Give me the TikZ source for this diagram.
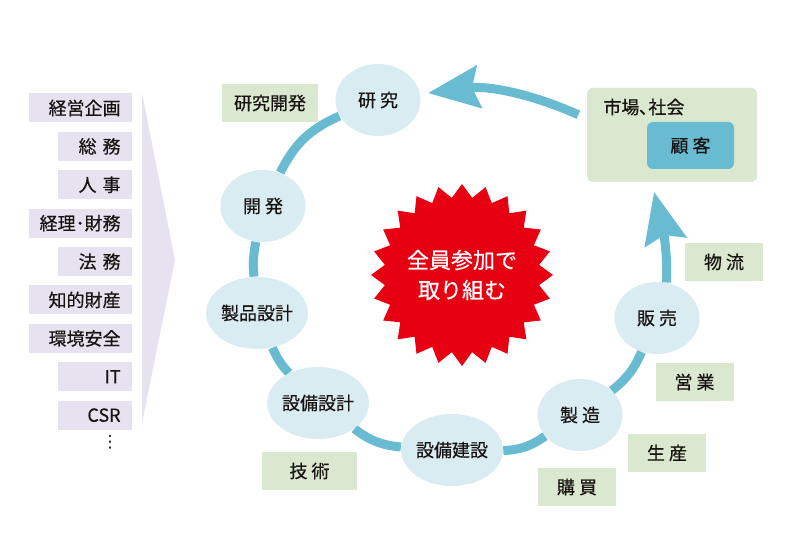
\documentclass[tikz,border=0pt]{standalone}
\usepackage{fontspec}
\setmainfont{Noto Sans CJK JP}[FakeBold=0.5]
\newfontfamily\symfont{DejaVu Sans}
\usetikzlibrary{positioning,shapes.geometric,arrows.meta,backgrounds}
\definecolor{ringblue}{RGB}{104,187,209}
\definecolor{paleblue}{RGB}{217,236,242}
\definecolor{palegreen}{RGB}{218,232,207}
\definecolor{lavender}{RGB}{231,226,240}
\definecolor{starred}{RGB}{230,0,18}
\definecolor{inkgray}{RGB}{25,20,18}

\begin{document}
\begin{tikzpicture}[x=1pt, y=1pt, node distance=8.6pt, thick, text=inkgray,
		step node/.style={ellipse,fill=paleblue,minimum width=85pt,minimum height=72pt,inner sep=0pt,font=\fontsize{18}{20}\selectfont},
		tag node/.style={fill=palegreen,minimum width=78pt,minimum height=38pt,font=\fontsize{18}{20}\selectfont},
		dept node/.style={fill=lavender,anchor=east,minimum height=29pt,inner xsep=11pt,inner ysep=0pt,text width=52pt,align=right,font=\fontsize{18}{20}\selectfont},
		wide/.style={text width=81pt},
		ring/.style={draw=ringblue,line width=9pt},
		flow/.style={ring,-{Stealth[length=52pt,width=44pt,inset=8pt,line width=0pt]}}]
	
	\useasboundingbox (0,0) rectangle (787,534);
	
	% staff departments
	\fill[lavender] (142,441) -- (175,274) -- (142,111) -- cycle;
	\node[dept node, wide] (b1) at (132,426) {経営企画};
	\node[dept node] (b2) [below=of b1.south east, anchor=north east] {総 務};
	\node[dept node] (b3) [below=of b2.south east, anchor=north east] {人 事};
	\node[dept node, wide] (b4) [below=of b3.south east, anchor=north east] {経理･財務};
	\node[dept node] (b5) [below=of b4.south east, anchor=north east] {法 務};
	\node[dept node, wide] (b6) [below=of b5.south east, anchor=north east] {知的財産};
	\node[dept node, wide] (b7) [below=of b6.south east, anchor=north east] {環境安全};
	\node[dept node] (b8) [below=of b7.south east, anchor=north east] {IT};
	\node[dept node] (b9) [below=of b8.south east, anchor=north east] {CSR};
	\node[inner sep=0pt, font=\symfont\fontsize{17}{20}\selectfont] (more) at (110,92) {⋮};
	
	% cycle
	\node[step node] (1) at (378,434) {研 究};
	\node[step node] (2) at (263,328) {開 発};
	\node[step node] (3) at (257,221) {製品設計};
	\node[step node] (4) at (318,131) {設備設計};
	\node[step node] (5) at (452,84) {設備建設};
	\node[step node] (6) at (580,119) {製 造};
	\node[step node] (7) at (657,216) {販 売};
	
	\begin{scope}[on background layer]
		\path[every edge/.style={ring}]
		(1) edge[bend right=20] (2)
		(2) edge[bend right=8] (3)
		(3) edge[bend right=10] (4)
		(4) edge[bend right=16] (5)
		(5) edge[bend right=16] (6)
		(6) edge[bend right=14] (7);
	\end{scope}
	
	% tasks
	\node[tag node, minimum width=96pt] (t1) at (270,431) {研究開発};
	\node[tag node] (t2) at (724,272) {物 流};
	\node[tag node] (t3) at (694.5,152) {営 業};
	\node[tag node] (t4) at (667,81) {生 産};
	\node[tag node] (t5) at (577,47) {購 買};
	\node[tag node, minimum width=95pt] (t6) at (309.5,63) {技 術};
	
	% market
	\node[fill=palegreen, rounded corners=6pt, minimum width=170pt, minimum height=94pt] (m) at (672,399) {};
	\node[anchor=west, inner sep=0pt, font=\fontsize{18}{20}\selectfont] (mt) at (603,427) {市場､社会};
	\node[fill=ringblue, rounded corners=6pt, minimum width=87pt, minimum height=47pt, font=\fontsize{18}{20}\selectfont] (c) at (690.5,388.5) {顧 客};
	
	\draw[flow, shorten <=9pt, shorten >=8pt] (m.169) to[out=156, in=7] (1.8);
	\draw[flow, shorten >=10pt] (7.75) to[out=88, in=-77] (m.247);
	
	% centre
	\node[star, star points=24, star point ratio=1.17, minimum size=178pt, inner sep=0pt, fill=starred, text=white, align=center, font=\fontsize{22}{30}\selectfont] (s) at (462,259) {全員参加で\\取り組む};
\end{tikzpicture}
\end{document}
